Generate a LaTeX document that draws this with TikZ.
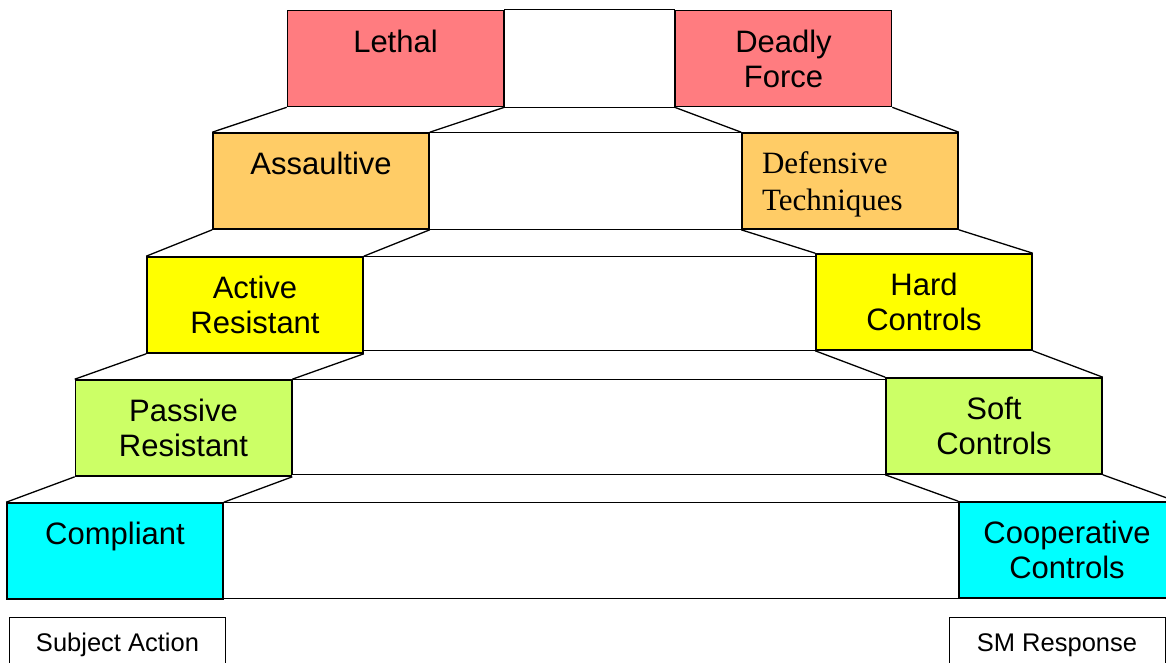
\documentclass[tikz,border=0pt]{standalone}
\usepackage{fontspec}
\setmainfont{Liberation Sans}
\newfontfamily\timesfont{Liberation Serif}

\definecolor{lethalred}{HTML}{FF7C80}
\definecolor{assaultorange}{HTML}{FFCC66}
\definecolor{activeyellow}{HTML}{FFFF00}
\definecolor{passivegreen}{HTML}{CCFF66}
\definecolor{compliantcyan}{HTML}{00FFFF}

\tikzset{
  stepbox/.style={draw=black, line width=1.6pt, minimum width=216pt, minimum height=96pt,
    inner sep=0pt, align=center, font=\fontsize{31}{35}\selectfont},
  tread/.style={draw=black, line width=1.3pt},
  tag/.style={draw=black, line width=0.9pt, anchor=north, minimum width=216pt,
    inner ysep=16pt, font=\fontsize{25.5}{28}\selectfont}
}

\begin{document}
\begin{tikzpicture}[x=1pt,y=-1pt]
\useasboundingbox (0,0) rectangle (1166,662);
\clip (0,0) rectangle (1166,662);

% subject action side
\node[stepbox,fill=lethalred] (lethal) at (395.5,58.5) {Lethal\\~};
\node[stepbox,fill=assaultorange] (assault) at (321,181) {Assaultive\\~};
\node[stepbox,fill=activeyellow] (active) at (255,305) {Active\\Resistant};
\node[stepbox,fill=passivegreen] (passive) at (183.5,428) {Passive\\Resistant};
\node[stepbox,fill=compliantcyan] (compliant) at (115,551) {Compliant\\~};

% response side
\node[stepbox,fill=lethalred] (deadly) at (783.5,58.5) {Deadly\\Force};
\node[stepbox,fill=assaultorange,text width=176pt,inner xsep=20pt,align=left,
  font=\timesfont\fontsize{31}{37}\selectfont] (defensive) at (850,181) {Defensive\\\smash{Techniques}};
\node[stepbox,fill=activeyellow] (hard) at (924,302) {Hard\\Controls};
\node[stepbox,fill=passivegreen] (soft) at (994,426) {Soft\\Controls};
\node[stepbox,fill=compliantcyan] (cooperative) at (1067,550) {Cooperative\\Controls};

% middle of each step
\draw[tread] (lethal.north east) rectangle (deadly.south west);
\draw[tread] (assault.north east) rectangle (defensive.south west);
\draw[tread] (active.north east) rectangle (hard.south west);
\draw[tread] (passive.north east) rectangle (soft.south west);
\draw[tread] (compliant.north east) rectangle (cooperative.south west);

% treads left
\draw[tread] (lethal.south west) -- (assault.north west);
\draw[tread] (lethal.south east) -- (assault.north east);
\draw[tread] (assault.south west) -- (active.north west);
\draw[tread] (assault.south east) -- (active.north east);
\draw[tread] (active.south west) -- (passive.north west);
\draw[tread] (active.south east) -- (passive.north east);
\draw[tread] (passive.south west) -- (compliant.north west);
\draw[tread] (passive.south east) -- (compliant.north east);

% treads right
\draw[tread] (deadly.south west) -- (defensive.north west);
\draw[tread] (deadly.south east) -- (defensive.north east);
\draw[tread] (defensive.south west) -- (hard.north west);
\draw[tread] (defensive.south east) -- (hard.north east);
\draw[tread] (hard.south west) -- (soft.north west);
\draw[tread] (hard.south east) -- (soft.north east);
\draw[tread] (soft.south west) -- (cooperative.north west);
\draw[tread] (soft.south east) -- (cooperative.north east);

\node[tag] (subject) at (117.5,617) {Subject Action};
\node[tag] (smresponse) at (1057,617) {SM Response};
\end{tikzpicture}
\end{document}
